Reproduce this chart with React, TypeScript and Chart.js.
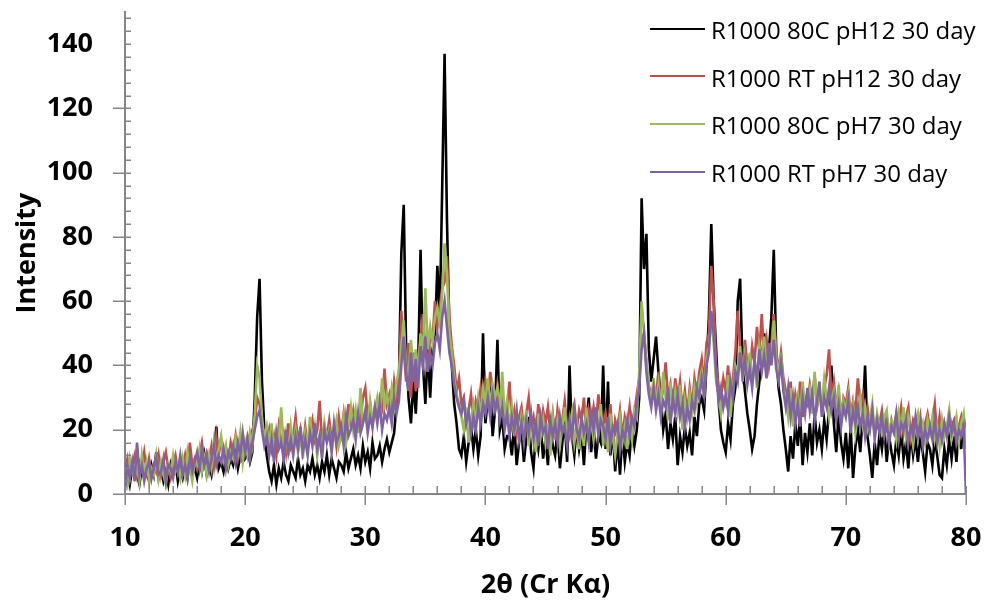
import { useEffect, useRef } from "react";
import { Chart, registerables } from "chart.js";

Chart.register(...registerables);

// 2θ sampling grid (degrees)
const TWO_THETA_START = 10;
const TWO_THETA_STEP = 0.2;

const SERIES_LABELS = [
  "R1000 80C pH12 30 day",
  "R1000 RT pH12 30 day",
  "R1000 80C pH7 30 day",
  "R1000 RT pH7 30 day",
];
const SERIES_COLORS = ["#000000", "#C0504D", "#9BBB59", "#8064A2"];

// one row per degree: x.0, x.2, x.4, x.6, x.8
const black80CpH12 = [
  4, 7, 3, 8, 5, // 10
  6, 3, 8, 5, 7, // 11
  4, 9, 6, 13, 5, // 12
  8, 4, 7, 3, 9, // 13
  6, 10, 4, 8, 5, // 14
  9, 5, 11, 6, 8, // 15
  5, 10, 7, 12, 6, // 16
  9, 6, 11, 21, 8, // 17
  10, 7, 12, 8, 11, // 18
  9, 13, 8, 12, 10, // 19
  11, 14, 10, 13, 30, // 20
  55, 67, 35, 20, 12, // 21
  7, 4, 9, 3, 8, // 22
  5, 10, 6, 4, 9, // 23
  7, 5, 11, 6, 8, // 24
  4, 9, 7, 11, 6, // 25
  9, 5, 10, 7, 12, // 26
  6, 11, 8, 5, 10, // 27
  9, 7, 13, 8, 11, // 28
  14, 9, 12, 8, 15, // 29
  10, 13, 8, 16, 11, // 30
  12, 15, 10, 14, 17, // 31
  13, 16, 19, 28, 35, // 32
  75, 90, 45, 30, 22, // 33
  35, 25, 40, 76, 40, // 34
  28, 45, 30, 45, 50, // 35
  71, 55, 95, 137, 85, // 36
  50, 40, 28, 22, 14, // 37
  12, 18, 10, 16, 21, // 38
  14, 20, 12, 18, 50, // 39
  22, 30, 35, 18, 26, // 40
  48, 20, 24, 14, 18, // 41
  18, 12, 22, 9, 16, // 42
  20, 10, 17, 24, 13, // 43
  8, 19, 14, 21, 11, // 44
  17, 9, 22, 15, 12, // 45
  20, 8, 16, 23, 10, // 46
  40, 18, 12, 21, 14, // 47
  19, 9, 22, 30, 13, // 48
  21, 11, 18, 16, 40, // 49
  14, 35, 12, 20, 7, // 50
  17, 6, 19, 10, 16, // 51
  12, 21, 15, 20, 30, // 52
  92, 70, 81, 45, 35, // 53
  42, 49, 38, 30, 20, // 54
  25, 14, 22, 17, 24, // 55
  9, 18, 13, 21, 15, // 56
  19, 12, 24, 18, 28, // 57
  30, 26, 40, 55, 84, // 58
  60, 45, 30, 20, 16, // 59
  13, 22, 17, 28, 33, // 60
  60, 67, 40, 32, 25, // 61
  20, 14, 18, 28, 35, // 62
  42, 50, 38, 45, 55, // 63
  76, 45, 33, 28, 20, // 64
  14, 7, 18, 11, 22, // 65
  15, 24, 9, 19, 13, // 66
  22, 12, 25, 16, 20, // 67
  14, 23, 17, 26, 40, // 68
  22, 13, 25, 16, 11, // 69
  19, 8, 21, 5, 15, // 70
  20, 13, 24, 40, 18, // 71
  12, 5, 16, 9, 19, // 72
  14, 21, 10, 18, 13, // 73
  9, 17, 12, 20, 11, // 74
  16, 8, 19, 12, 17, // 75
  10, 18, 13, 7, 16, // 76
  14, 9, 17, 12, 6, // 77
  5, 14, 9, 17, 11, // 78
  18, 10, 20, 14, 24, // 79
  18, // 80
];

const redRTpH12 = [
  8, 11, 5, 9, 12, // 10
  6, 10, 8, 13, 7, // 11
  11, 5, 9, 7, 12, // 12
  6, 10, 13, 8, 5, // 13
  9, 12, 7, 11, 8, // 14
  12, 7, 16, 9, 11, // 15
  8, 12, 16, 10, 13, // 16
  11, 15, 9, 18, 12, // 17
  17, 12, 14, 10, 16, // 18
  13, 18, 11, 15, 17, // 19
  14, 18, 15, 20, 22, // 20
  30, 28, 22, 18, 16, // 21
  20, 14, 18, 12, 21, // 22
  16, 19, 13, 22, 15, // 23
  18, 24, 16, 20, 14, // 24
  21, 15, 19, 23, 17, // 25
  20, 29, 16, 21, 18, // 26
  23, 17, 21, 15, 24, // 27
  19, 25, 18, 28, 22, // 28
  26, 20, 24, 22, 30, // 29
  33, 24, 28, 21, 27, // 30
  25, 30, 27, 39, 28, // 31
  31, 26, 35, 29, 36, // 32
  57, 45, 35, 47, 30, // 33
  44, 32, 42, 48, 56, // 34
  45, 38, 50, 48, 60, // 35
  52, 58, 64, 66, 74, // 36
  55, 46, 40, 32, 36, // 37
  28, 30, 22, 26, 31, // 38
  23, 29, 26, 33, 27, // 39
  35, 29, 38, 31, 27, // 40
  34, 28, 31, 23, 27, // 41
  35, 22, 26, 19, 24, // 42
  27, 20, 25, 30, 21, // 43
  24, 18, 28, 20, 26, // 44
  22, 27, 19, 25, 17, // 45
  26, 20, 23, 29, 21, // 46
  18, 25, 28, 20, 26, // 47
  23, 30, 19, 26, 22, // 48
  27, 21, 31, 24, 20, // 49
  25, 19, 28, 16, 23, // 50
  20, 26, 18, 24, 21, // 51
  27, 19, 25, 31, 36, // 52
  48, 50, 40, 34, 30, // 53
  34, 30, 38, 28, 33, // 54
  41, 30, 34, 27, 36, // 55
  29, 35, 26, 32, 25, // 56
  33, 27, 36, 31, 38, // 57
  42, 34, 47, 50, 71, // 58
  60, 40, 34, 30, 36, // 59
  32, 40, 28, 36, 44, // 60
  57, 45, 39, 48, 40, // 61
  37, 46, 41, 52, 44, // 62
  56, 42, 48, 40, 46, // 63
  56, 45, 38, 44, 36, // 64
  32, 27, 35, 24, 31, // 65
  27, 35, 24, 30, 28, // 66
  34, 29, 37, 27, 31, // 67
  28, 33, 37, 45, 30, // 68
  35, 27, 32, 24, 30, // 69
  28, 33, 24, 29, 26, // 70
  36, 28, 31, 23, 27, // 71
  21, 26, 19, 24, 22, // 72
  26, 20, 24, 18, 23, // 73
  20, 25, 22, 27, 19, // 74
  24, 27, 18, 23, 21, // 75
  19, 24, 17, 22, 25, // 76
  20, 23, 28, 18, 24, // 77
  17, 22, 19, 25, 21, // 78
  23, 18, 21, 24, 19, // 79
  16, // 80
];

const green80CpH7 = [
  6, 3, 11, 7, 5, // 10
  9, 4, 12, 6, 10, // 11
  4, 8, 6, 12, 5, // 12
  10, 6, 3, 9, 7, // 13
  12, 7, 9, 5, 11, // 14
  6, 13, 8, 4, 10, // 15
  9, 14, 7, 11, 6, // 16
  12, 8, 16, 10, 14, // 17
  18, 11, 15, 9, 13, // 18
  11, 17, 13, 19, 10, // 19
  16, 12, 19, 15, 25, // 20
  40, 36, 24, 17, 21, // 21
  15, 22, 13, 19, 16, // 22
  27, 14, 19, 12, 21, // 23
  15, 20, 13, 18, 11, // 24
  19, 14, 24, 16, 21, // 25
  12, 18, 15, 22, 17, // 26
  20, 14, 19, 23, 15, // 27
  18, 24, 16, 21, 27, // 28
  20, 26, 19, 33, 22, // 29
  25, 21, 29, 23, 26, // 30
  30, 24, 36, 27, 31, // 31
  26, 33, 28, 35, 38, // 32
  46, 54, 40, 36, 48, // 33
  38, 45, 37, 50, 44, // 34
  64, 45, 52, 47, 55, // 35
  58, 53, 62, 78, 68, // 36
  50, 44, 36, 31, 28, // 37
  24, 20, 27, 16, 23, // 38
  28, 22, 30, 25, 33, // 39
  28, 36, 27, 34, 30, // 40
  33, 26, 38, 24, 29, // 41
  21, 27, 18, 25, 16, // 42
  24, 19, 26, 15, 22, // 43
  20, 13, 25, 18, 23, // 44
  16, 22, 12, 24, 19, // 45
  23, 15, 21, 27, 17, // 46
  20, 25, 16, 22, 14, // 47
  21, 15, 27, 18, 23, // 48
  17, 24, 20, 28, 15, // 49
  22, 13, 25, 18, 12, // 50
  19, 24, 16, 21, 14, // 51
  22, 17, 26, 24, 38, // 52
  60, 50, 42, 33, 29, // 53
  36, 28, 34, 26, 38, // 54
  30, 23, 35, 27, 32, // 55
  26, 34, 20, 29, 24, // 56
  31, 25, 33, 28, 35, // 57
  38, 30, 42, 46, 55, // 58
  47, 35, 31, 25, 30, // 59
  28, 37, 24, 33, 40, // 60
  38, 46, 35, 43, 37, // 61
  44, 35, 40, 33, 46, // 62
  41, 49, 38, 45, 43, // 63
  54, 42, 37, 44, 33, // 64
  30, 24, 33, 21, 28, // 65
  31, 24, 35, 27, 30, // 66
  33, 25, 38, 28, 31, // 67
  27, 36, 30, 24, 29, // 68
  32, 25, 34, 22, 29, // 69
  26, 31, 22, 28, 19, // 70
  25, 30, 22, 27, 20, // 71
  23, 28, 18, 25, 21, // 72
  19, 24, 26, 17, 23, // 73
  22, 17, 25, 20, 27, // 74
  18, 24, 20, 15, 22, // 75
  25, 19, 22, 16, 23, // 76
  19, 24, 17, 21, 15, // 77
  23, 18, 21, 26, 17, // 78
  20, 24, 16, 22, 25, // 79
  14, // 80
];

const purpleRTpH7 = [
  1, 9, 5, 10, 4, // 10
  16, 6, 9, 4, 8, // 11
  10, 5, 8, 11, 6, // 12
  7, 11, 4, 9, 8, // 13
  5, 10, 7, 12, 6, // 14
  9, 5, 11, 7, 10, // 15
  13, 8, 14, 9, 12, // 16
  7, 11, 15, 9, 12, // 17
  10, 14, 8, 13, 11, // 18
  15, 10, 16, 12, 19, // 19
  13, 17, 11, 16, 20, // 20
  24, 26, 20, 15, 18, // 21
  12, 17, 10, 19, 14, // 22
  16, 11, 20, 13, 17, // 23
  12, 18, 14, 21, 13, // 24
  17, 12, 19, 15, 22, // 25
  14, 18, 11, 20, 16, // 26
  19, 13, 22, 16, 18, // 27
  21, 15, 24, 18, 20, // 28
  23, 17, 25, 19, 22, // 29
  26, 19, 24, 21, 27, // 30
  22, 28, 20, 25, 23, // 31
  27, 22, 30, 25, 29, // 32
  40, 49, 38, 32, 44, // 33
  35, 42, 33, 46, 40, // 34
  49, 38, 44, 40, 47, // 35
  50, 45, 55, 60, 52, // 36
  44, 40, 34, 30, 27, // 37
  25, 29, 22, 26, 19, // 38
  24, 20, 27, 22, 28, // 39
  25, 30, 24, 31, 26, // 40
  29, 23, 27, 20, 25, // 41
  18, 24, 20, 26, 17, // 42
  22, 16, 23, 19, 25, // 43
  17, 22, 15, 24, 19, // 44
  21, 14, 23, 18, 22, // 45
  16, 24, 19, 21, 15, // 46
  23, 18, 26, 20, 17, // 47
  24, 19, 22, 16, 25, // 48
  20, 27, 18, 23, 21, // 49
  17, 24, 15, 21, 19, // 50
  22, 14, 20, 17, 23, // 51
  18, 24, 21, 28, 33, // 52
  45, 50, 38, 31, 27, // 53
  33, 26, 31, 24, 29, // 54
  27, 33, 22, 30, 25, // 55
  31, 24, 28, 21, 27, // 56
  23, 29, 26, 33, 30, // 57
  36, 31, 40, 44, 57, // 58
  50, 38, 29, 33, 27, // 59
  31, 26, 35, 30, 38, // 60
  35, 44, 37, 42, 34, // 61
  39, 33, 42, 36, 45, // 62
  38, 43, 36, 47, 40, // 63
  48, 39, 35, 41, 32, // 64
  27, 33, 24, 30, 22, // 65
  28, 21, 30, 25, 33, // 66
  26, 31, 23, 29, 35, // 67
  24, 30, 27, 33, 26, // 68
  30, 23, 28, 21, 27, // 69
  24, 29, 19, 26, 22, // 70
  27, 21, 25, 18, 24, // 71
  20, 26, 17, 23, 19, // 72
  24, 18, 22, 16, 21, // 73
  19, 25, 17, 22, 20, // 74
  23, 16, 21, 18, 24, // 75
  18, 22, 15, 20, 17, // 76
  21, 17, 23, 16, 20, // 77
  17, 22, 18, 24, 19, // 78
  22, 16, 20, 18, 21, // 79
  0, // 80
];

const SERIES_VALUES = [black80CpH12, redRTpH12, green80CpH7, purpleRTpH7];

const X_MIN = 10;
const X_MAX = 80;
const X_MAJOR = 10;
const X_MINOR = 2;
const Y_MIN = 0;
const Y_MAX = 150;
const Y_MAJOR = 20;
const Y_MINOR = 4;

const AXIS_COLOR = "#868686";
const FONT_FAMILY = "'Open Sans', 'Noto Sans', sans-serif";

const tickMarksPlugin = {
  id: "tickMarks",
  afterDraw(chart: any) {
    const { ctx, scales } = chart;
    const xs = scales.x;
    const ys = scales.y;
    const axisX = ys.right;
    const axisY = xs.top;
    ctx.save();
    ctx.strokeStyle = AXIS_COLOR;
    ctx.lineWidth = 1.5;
    ctx.beginPath();
    for (let v = Y_MIN; v <= Y_MAX + 1e-9; v += Y_MINOR) {
      const py = Math.round(ys.getPixelForValue(v)) + 0.25;
      ctx.moveTo(axisX, py);
      ctx.lineTo(axisX + 6, py);
    }
    for (let v = Y_MIN; v <= Y_MAX - Y_MAJOR + 1e-9; v += Y_MAJOR) {
      const py = Math.round(ys.getPixelForValue(v)) + 0.25;
      ctx.moveTo(axisX - 12, py);
      ctx.lineTo(axisX, py);
    }
    for (let v = X_MIN; v <= X_MAX + 1e-9; v += X_MINOR) {
      const px = Math.round(xs.getPixelForValue(v)) + 0.25;
      ctx.moveTo(px, axisY - 8);
      ctx.lineTo(px, axisY);
    }
    for (let v = X_MIN; v <= X_MAX + 1e-9; v += X_MAJOR) {
      const px = Math.round(xs.getPixelForValue(v)) + 0.25;
      ctx.moveTo(px, axisY);
      ctx.lineTo(px, axisY + 11);
    }
    ctx.stroke();
    ctx.restore();
  },
};

const legendPlugin = {
  id: "insideLegend",
  afterDraw(chart: any) {
    const { ctx } = chart;
    ctx.save();
    ctx.font = `400 24px ${FONT_FAMILY}`;
    ctx.textAlign = "left";
    ctx.textBaseline = "alphabetic";
    chart.data.datasets.forEach((ds: any, i: number) => {
      const base = 39 + i * 47.6;
      const ly = Math.round(base - 10.3);
      ctx.strokeStyle = ds.borderColor;
      ctx.lineWidth = 2;
      ctx.beginPath();
      ctx.moveTo(650, ly);
      ctx.lineTo(705, ly);
      ctx.stroke();
      ctx.fillStyle = "#000000";
      ctx.fillText(ds.label, 711, base);
    });
    ctx.restore();
  },
};

export default function App() {
  const canvasRef = useRef<HTMLCanvasElement | null>(null);

  useEffect(() => {
    const canvas = canvasRef.current;
    if (!canvas) return;
    const tickFont = { family: FONT_FAMILY, size: 27, weight: "bold" as const };
    const datasets = SERIES_VALUES.map((values, i) => ({
      label: SERIES_LABELS[i],
      data: values.map((v, j) => ({ x: TWO_THETA_START + j * TWO_THETA_STEP, y: v })),
      borderColor: SERIES_COLORS[i],
      backgroundColor: SERIES_COLORS[i],
      borderWidth: 2.6,
      pointRadius: 0,
      tension: 0,
      fill: false,
      order: SERIES_VALUES.length - 1 - i,
    }));
    const chart = new Chart(canvas, {
      type: "line",
      data: { datasets },
      options: {
        animation: false,
        responsive: false,
        devicePixelRatio: 1,
        events: [],
        layout: { padding: { top: 12, right: 21, left: 0, bottom: 0 } },
        plugins: {
          legend: { display: false },
          tooltip: { enabled: false },
        },
        scales: {
          x: {
            type: "linear",
            min: X_MIN,
            max: X_MAX,
            grid: { display: false, drawTicks: false },
            border: { display: true, color: AXIS_COLOR, width: 2 },
            ticks: {
              stepSize: X_MAJOR,
              color: "#000000",
              font: tickFont,
              padding: 28,
              maxRotation: 0,
              autoSkip: false,
            },
            title: {
              display: true,
              text: "2θ (Cr Kα)",
              color: "#000000",
              font: tickFont,
              padding: { top: 0, bottom: -1 },
            },
            afterFit: (s: any) => {
              s.height = 107;
              s.paddingLeft = 0;
              s.paddingRight = 0;
            },
          },
          y: {
            type: "linear",
            min: Y_MIN,
            max: Y_MAX,
            grid: { display: false, drawTicks: false },
            border: { display: true, color: AXIS_COLOR, width: 2 },
            ticks: {
              stepSize: Y_MAJOR,
              includeBounds: false,
              color: "#000000",
              font: tickFont,
              padding: 32,
            },
            title: {
              display: true,
              text: "Intensity",
              color: "#000000",
              font: tickFont,
              padding: { top: 11, bottom: 0 },
            },
            afterFit: (s: any) => {
              s.width = 125;
              s.paddingTop = 0;
              s.paddingBottom = 0;
            },
          },
        },
      },
      plugins: [tickMarksPlugin, legendPlugin],
    } as any);
    return () => chart.destroy();
  }, []);

  return (
    <div style={{ position: "absolute", left: 0, top: 0, width: 987, height: 601, background: "#ffffff" }}>
      <canvas ref={canvasRef} width={987} height={601} style={{ display: "block" }} />
    </div>
  );
}
